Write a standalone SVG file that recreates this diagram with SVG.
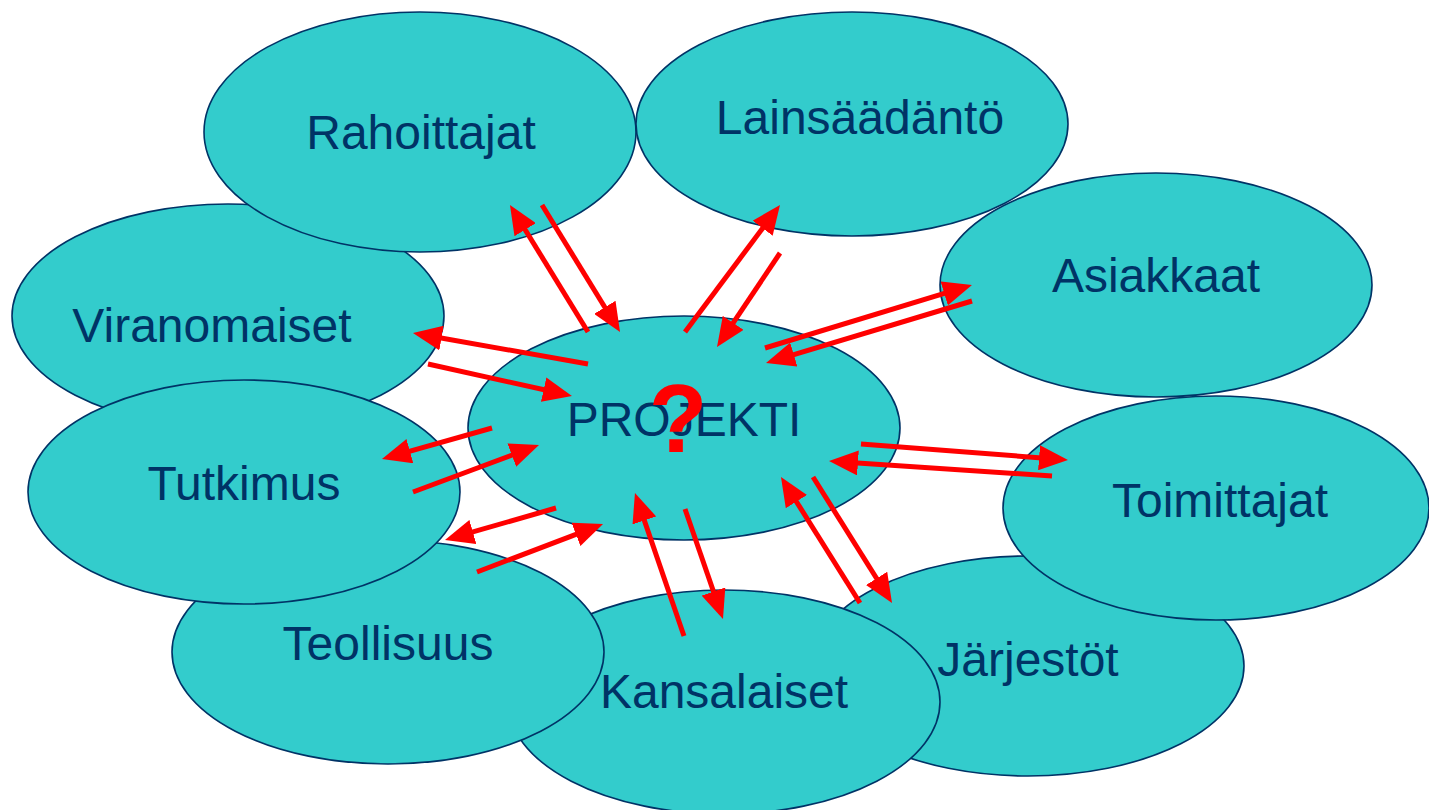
<svg xmlns="http://www.w3.org/2000/svg" width="1429" height="810" viewBox="0 0 1429 810">
<defs>
<style>
.n{fill:#33CCCC;stroke:#003366;stroke-width:1.6}
.t{font-family:"Liberation Sans",Arial,sans-serif;font-size:48px;fill:#003366;text-anchor:middle}
.a{stroke:#FF0000;stroke-width:5;fill:none;marker-end:url(#ah)}
.q{font-family:"Liberation Sans",Arial,sans-serif;font-size:96px;font-weight:bold;fill:#FF0000;text-anchor:middle}
</style>
<marker id="ah" markerUnits="userSpaceOnUse" viewBox="0 0 29 25" markerWidth="29" markerHeight="25" refX="19" refY="12.5" orient="auto">
<path d="M0,0 L29,12.5 L0,25 z" fill="#FF0000"/>
</marker>
</defs>
<rect width="1429" height="810" fill="#FFFFFF"/>
<g id="viranomaiset"><ellipse class="n" cx="228" cy="316" rx="216" ry="112"/><text class="t" x="212" y="342">Viranomaiset</text></g>
<g id="rahoittajat"><ellipse class="n" cx="420" cy="132" rx="216" ry="120"/><text class="t" x="421" y="149">Rahoittajat</text></g>
<g id="lainsaadanto"><ellipse class="n" cx="852" cy="124" rx="216" ry="112"/><text class="t" x="860" y="134">Lainsäädäntö</text></g>
<g id="asiakkaat"><ellipse class="n" cx="1156" cy="285" rx="216" ry="112"/><text class="t" x="1156" y="292">Asiakkaat</text></g>
<g id="projekti"><ellipse class="n" cx="684" cy="428" rx="216" ry="112"/><text class="t" x="684" y="436">PROJEKTI</text><text class="q" x="678" y="452">?</text></g>
<g id="jarjestot"><ellipse class="n" cx="1028" cy="666" rx="216" ry="110"/><text class="t" x="1028" y="676">Järjestöt</text></g>
<g id="toimittajat"><ellipse class="n" cx="1216" cy="508" rx="213" ry="112"/><text class="t" x="1220" y="517">Toimittajat</text></g>
<g id="kansalaiset"><ellipse class="n" cx="724" cy="702" rx="216" ry="112"/><text class="t" x="724" y="708">Kansalaiset</text></g>
<g id="teollisuus"><ellipse class="n" cx="388" cy="652" rx="216" ry="112"/><text class="t" x="388" y="660">Teollisuus</text></g>
<g id="tutkimus"><ellipse class="n" cx="244" cy="492" rx="216" ry="112"/><text class="t" x="244" y="500">Tutkimus</text></g>
<g id="connectors">
<line class="a" x1="588" y1="332" x2="515.2" y2="213.5"/>
<line class="a" x1="542" y1="205" x2="614.8" y2="323.5"/>
<line class="a" x1="685" y1="332" x2="774" y2="213"/>
<line class="a" x1="780" y1="253" x2="722.6" y2="338.7"/>
<line class="a" x1="765" y1="348" x2="962.4" y2="287.9"/>
<line class="a" x1="972" y1="301" x2="775.6" y2="360.1"/>
<line class="a" x1="588" y1="364" x2="422.8" y2="334.7"/>
<line class="a" x1="428" y1="364" x2="562.2" y2="393.8"/>
<line class="a" x1="492" y1="428" x2="391.6" y2="456.3"/>
<line class="a" x1="413" y1="492" x2="529.6" y2="448.5"/>
<line class="a" x1="556" y1="508" x2="454.6" y2="537.2"/>
<line class="a" x1="477" y1="572" x2="593.7" y2="527.6"/>
<line class="a" x1="684" y1="636" x2="638.2" y2="502.5"/>
<line class="a" x1="685" y1="509" x2="719.7" y2="609.5"/>
<line class="a" x1="860" y1="603" x2="786.3" y2="485.5"/>
<line class="a" x1="813" y1="477" x2="886.7" y2="594.5"/>
<line class="a" x1="861" y1="444" x2="1058" y2="459.2"/>
<line class="a" x1="1052" y1="476" x2="839" y2="461.7"/>
</g>
</svg>
